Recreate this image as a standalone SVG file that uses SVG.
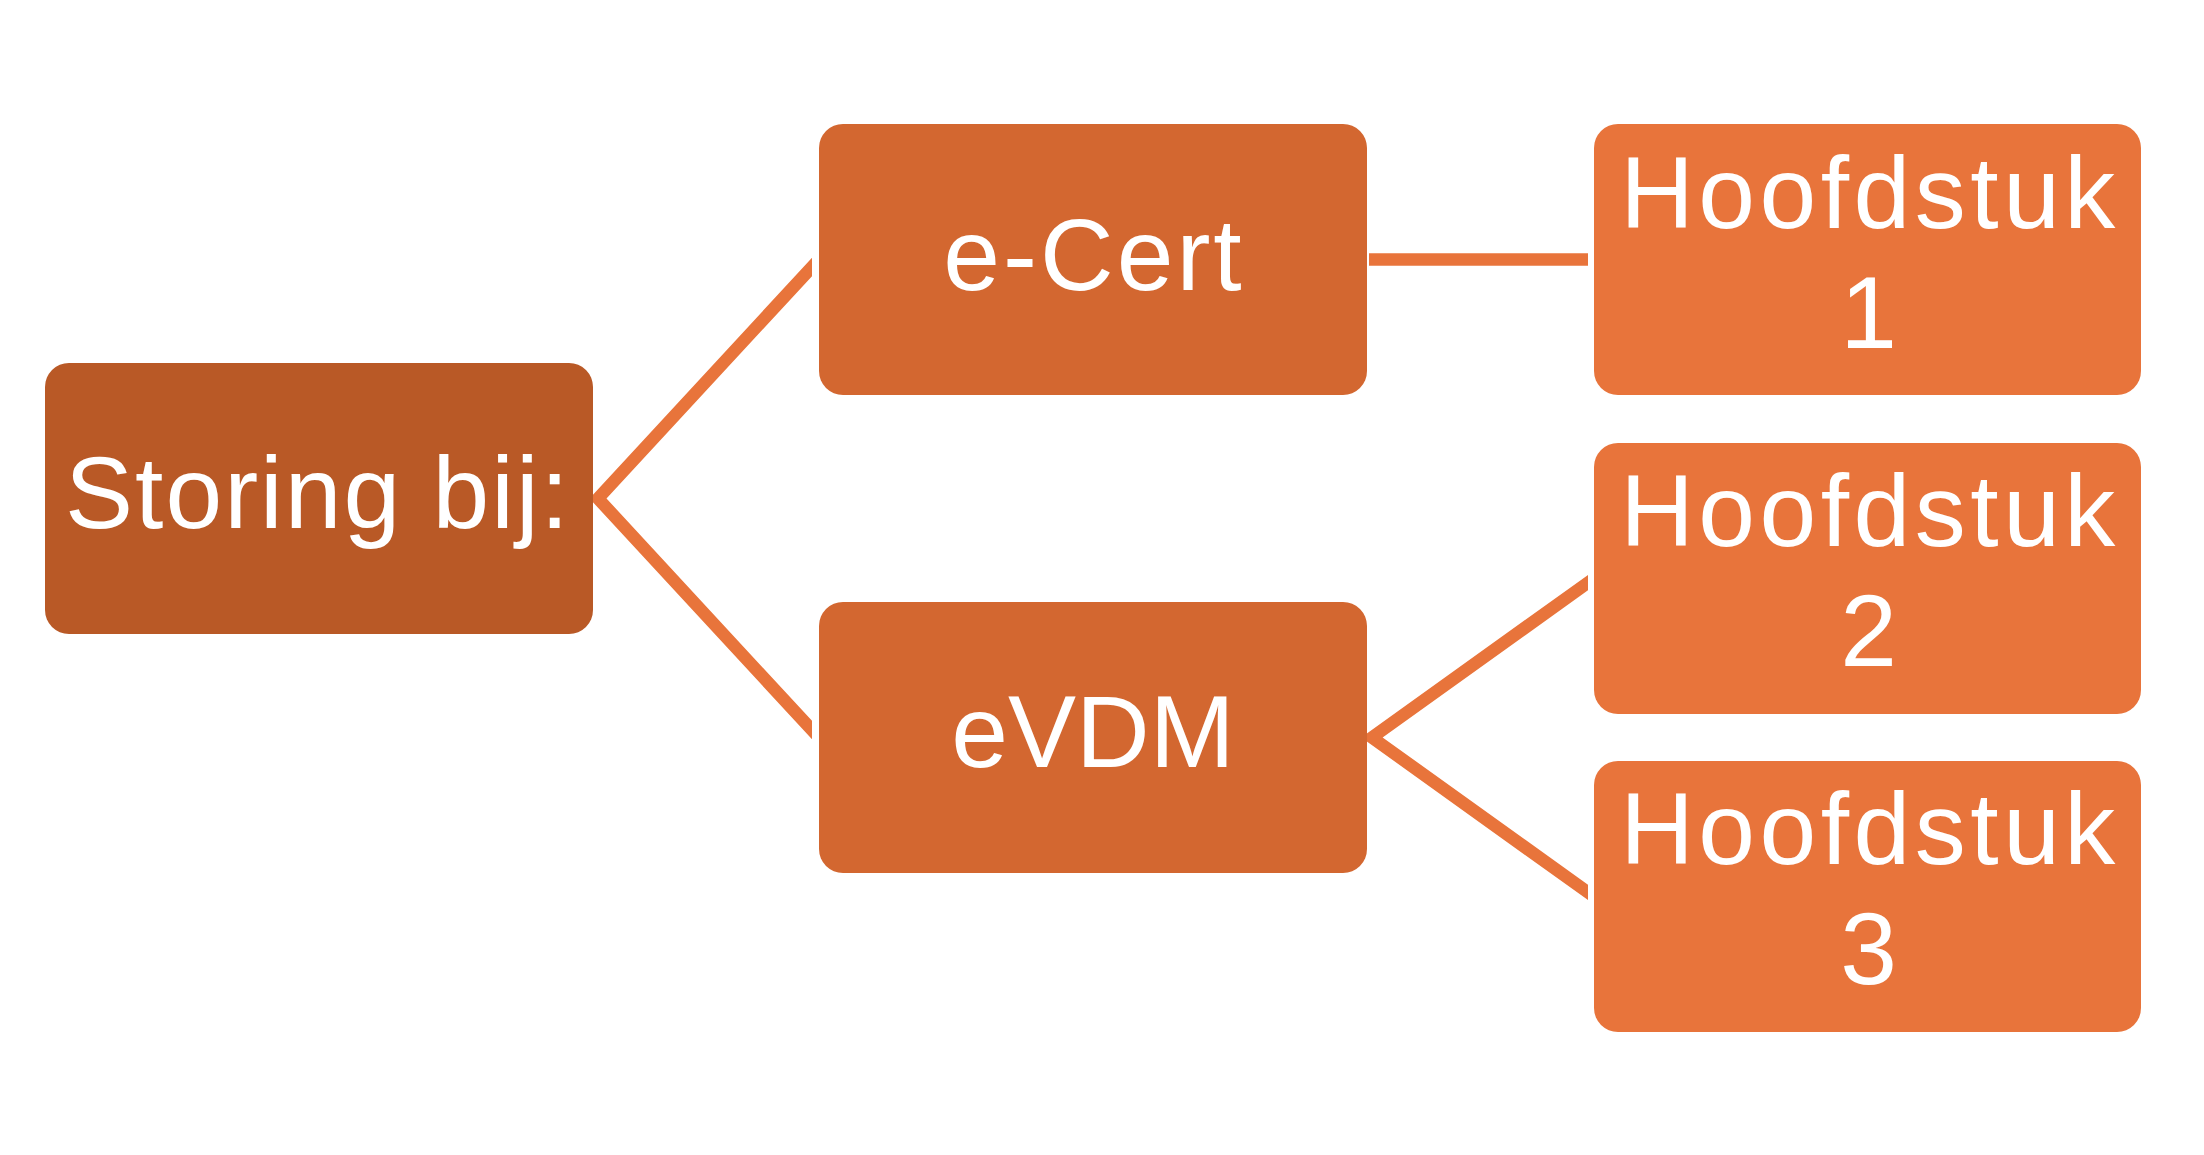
<svg xmlns="http://www.w3.org/2000/svg" width="2204" height="1155" viewBox="0 0 2204 1155">
  <style>
    .lbl { font-family: "Liberation Sans", Arial, sans-serif; font-size: 102px; fill: #FFFFFF; text-anchor: middle; letter-spacing: 3px; }
    .wide { letter-spacing: 4.5px; }
    .snug { letter-spacing: 2px; }
    .tight { letter-spacing: 0px; }
    .root { fill: #B95926; }
    .mid { fill: #D36730; }
    .leaf { fill: #E8743B; }
    .conn { fill: none; stroke: #E8743B; stroke-width: 12.5; stroke-linejoin: miter; stroke-miterlimit: 10; }
  </style>
  <defs>
    <clipPath id="clipL"><rect x="560" y="200" width="252" height="600"/></clipPath>
    <clipPath id="clipR"><rect x="1340" y="500" width="248" height="480"/></clipPath>
  </defs>
  <rect width="2204" height="1155" fill="#FFFFFF"/>

  <g id="connectors">
    <polyline class="conn" clip-path="url(#clipL)" points="830,247.5 598,498.5 830,749.5"/>
    <line class="conn" x1="1369" y1="259.5" x2="1588" y2="259.5"/>
    <polyline class="conn" clip-path="url(#clipR)" points="1600,574 1372,737.5 1600,901"/>
  </g>

  <g id="node-storing">
    <rect class="root" x="45" y="363" width="548" height="271" rx="24" ry="24"/>
    <text class="lbl snug" x="318" y="528">Storing bij:</text>
  </g>

  <g id="node-ecert">
    <rect class="mid" x="819" y="124" width="548" height="271" rx="24" ry="24"/>
    <text class="lbl" x="1094" y="290">e-Cert</text>
  </g>

  <g id="node-evdm">
    <rect class="mid" x="819" y="602" width="548" height="271" rx="24" ry="24"/>
    <text class="lbl tight" x="1093" y="767">eVDM</text>
  </g>

  <g id="node-h1">
    <rect class="leaf" x="1594" y="124" width="547" height="271" rx="24" ry="24"/>
    <text class="lbl wide" x="1870" y="228">Hoofdstuk</text>
    <text class="lbl" x="1870" y="348">1</text>
  </g>

  <g id="node-h2">
    <rect class="leaf" x="1594" y="443" width="547" height="271" rx="24" ry="24"/>
    <text class="lbl wide" x="1870" y="546">Hoofdstuk</text>
    <text class="lbl" x="1870" y="666">2</text>
  </g>

  <g id="node-h3">
    <rect class="leaf" x="1594" y="761" width="547" height="271" rx="24" ry="24"/>
    <text class="lbl wide" x="1870" y="864">Hoofdstuk</text>
    <text class="lbl" x="1870" y="984">3</text>
  </g>
</svg>
